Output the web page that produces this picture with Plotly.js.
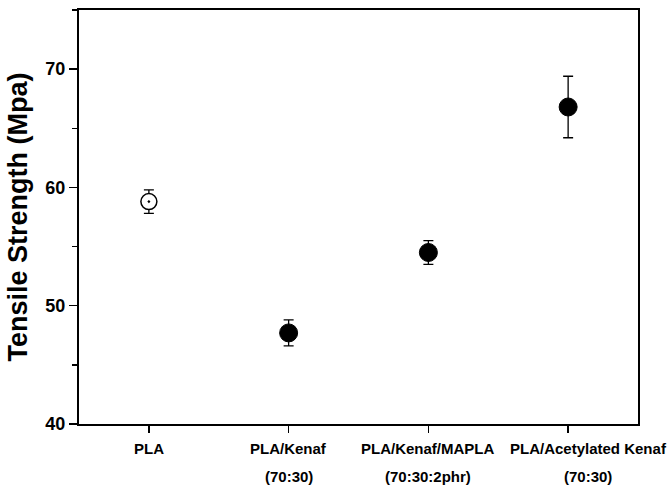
<!DOCTYPE html>
<html>
<head>
<meta charset="utf-8">
<script src="https://cdn.plot.ly/plotly-3.0.1.min.js"></script>
<style>
  html, body { margin: 0; padding: 0; background: #fff; }
  #chart { width: 670px; height: 485px; }
</style>
</head>
<body>
<div id="chart"></div>
<script>
// Sample groups (first line of each label) and their ratio notes (second line)
const categories = ["PLA", "PLA/Kenaf", "PLA/Kenaf/MAPLA", "PLA/Acetylated Kenaf"];
const subLabels = ["", "(70:30)", "(70:30:2phr)", "(70:30)"];
// Tensile strength (MPa) and standard deviation
const strength = [58.8, 47.7, 54.5, 66.8];
const strengthErr = [1.0, 1.1, 1.0, 2.6];
const yTicks = [40, 50, 60, 70];

const FONT = '"Liberation Sans", Arial, Helvetica, sans-serif';

const trace = {
  x: categories,
  y: strength,
  type: 'scatter',
  mode: 'markers',
  marker: {
    symbol: ['circle-dot', 'circle', 'circle', 'circle'],
    color: ['#ffffff', '#000000', '#000000', '#000000'],
    size: [16, 18, 18, 18],
    opacity: 1,
    line: { color: '#000000', width: [1.5, 1, 1, 1] }
  },
  error_y: {
    type: 'data',
    array: strengthErr,
    visible: true,
    color: '#000000',
    thickness: 1.3,
    width: 5
  },
  hoverinfo: 'x+y'
};

// Two-line category labels under the axis, drawn as annotations
const annotations = [];
categories.forEach((c, i) => {
  const dx = i === categories.length - 1 ? 20 : 0;
  annotations.push({
    x: c, xref: 'x', y: 0, yref: 'paper',
    yanchor: 'top', xanchor: 'center',
    yshift: -14, xshift: dx,
    text: c, showarrow: false,
    font: { family: FONT, size: 15, color: '#000', weight: 'bold' }
  });
  if (subLabels[i]) {
    annotations.push({
      x: c, xref: 'x', y: 0, yref: 'paper',
      yanchor: 'top', xanchor: 'center',
      yshift: -42, xshift: dx,
      text: subLabels[i], showarrow: false,
      font: { family: FONT, size: 15, color: '#000', weight: 'bold' }
    });
  }
});

const layout = {
  width: 670,
  height: 485,
  margin: { l: 79, r: 32, t: 10, b: 61, pad: 0 },
  paper_bgcolor: '#ffffff',
  plot_bgcolor: '#ffffff',
  showlegend: false,
  font: { family: FONT, color: '#000' },
  xaxis: {
    type: 'category',
    range: [-0.5, 3.5],
    showticklabels: false,
    ticks: 'outside',
    ticklen: 7,
    tickwidth: 1.5,
    tickcolor: '#000',
    showline: true,
    linewidth: 2,
    linecolor: '#000',
    mirror: true,
    showgrid: false,
    zeroline: false,
    fixedrange: true
  },
  yaxis: {
    range: [40, 75],
    tickvals: yTicks,
    ticktext: yTicks.map(String),
    ticks: 'outside',
    ticklen: 8,
    tickwidth: 1.5,
    tickcolor: '#000',
    minor: { dtick: 5, tick0: 45, ticks: 'outside', ticklen: 5, tickwidth: 1.5, tickcolor: '#000', showgrid: false },
    tickfont: { family: FONT, size: 18, color: '#000', weight: 'bold' },
    showline: true,
    linewidth: 2,
    linecolor: '#000',
    mirror: true,
    showgrid: false,
    zeroline: false,
    title: {
      text: 'Tensile Strength (Mpa)',
      font: { family: FONT, size: 27, color: '#000', weight: 'bold' },
      standoff: 10
    },
    fixedrange: true
  },
  annotations: annotations
};

Plotly.newPlot('chart', [trace], layout, { displayModeBar: false, staticPlot: true });
</script>
</body>
</html>
